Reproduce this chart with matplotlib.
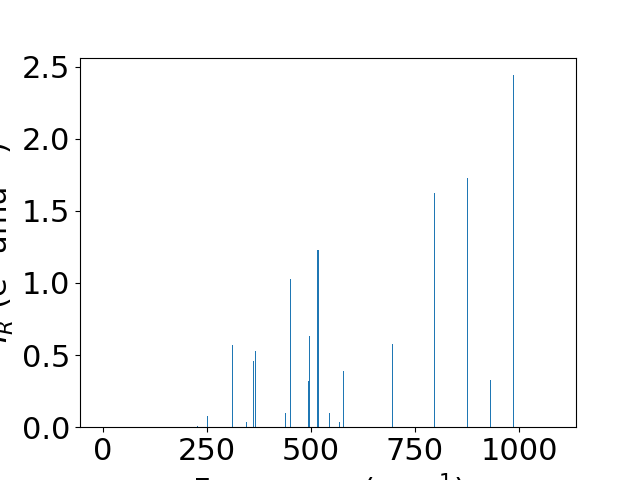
import matplotlib
matplotlib.use("Agg")
import matplotlib.pyplot as plt
import numpy as np

# IR-active modes: frequency (cm^-1) and intensity
frequencies = [227, 251, 312, 344, 362, 366, 438, 450, 495, 497, 517, 519,
               544, 568, 578, 695, 796, 876, 931, 986]
intensities = [0.005, 0.08, 0.57, 0.035, 0.46, 0.53, 0.10, 1.03, 0.32, 0.63,
               1.23, 0.055, 0.10, 0.035, 0.39, 0.58, 1.62, 1.73, 0.33, 2.44]

plt.rcParams["font.size"] = 22

f, ax = plt.subplots(figsize=(6.4, 4.8), dpi=100)
ax.bar(frequencies, intensities, width=2.5)
ax.set_xlim(-55, 1137)
ax.set_xticks([0, 250, 500, 750, 1000])
ax.set_xlabel(r"Frequency (cm$^{-1}$)")
ax.set_ylabel(r"$I_R$ (e$^2$ amu$^{-1}$)")

plt.savefig("out.png")
plt.close()
